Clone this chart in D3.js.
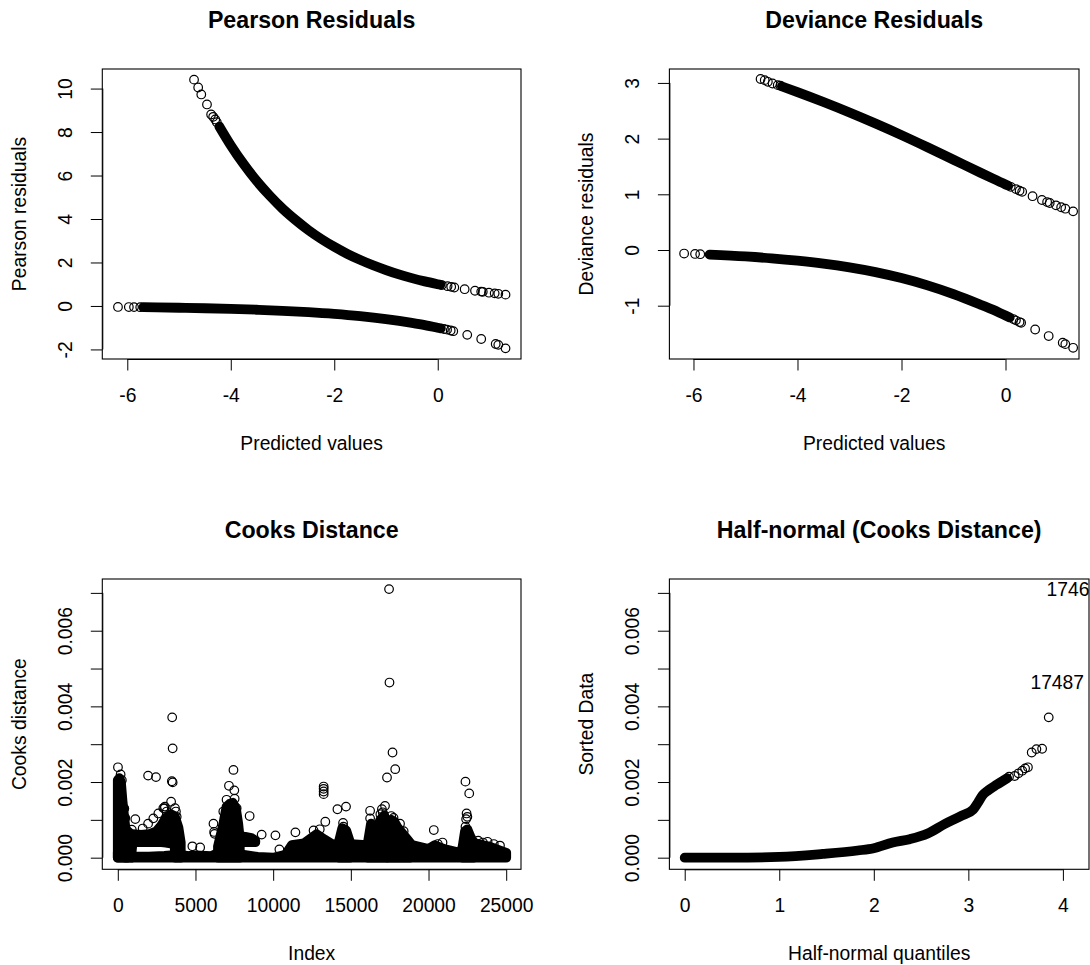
<!DOCTYPE html>
<html><head><meta charset="utf-8">
<script src="https://cdn.jsdelivr.net/npm/d3@7"></script>
<style>
body{margin:0;background:#fff}
svg{display:block;background:#fff}
</style>
</head><body>
<svg id="c" width="1090" height="965"></svg>
<script>
// ---------------- DATA ----------------
// Pearson residuals vs predicted values: dense bands (centre line of the point cloud) and separate points
const pearsonUpperBand = [[-4.22,8.25],[-4.0,7.39],[-3.75,6.52],[-3.5,5.75],[-3.25,5.08],[-3.0,4.48],[-2.75,3.96],[-2.5,3.49],[-2.25,3.08],[-2.0,2.72],[-1.75,2.40],[-1.5,2.12],[-1.25,1.87],[-1.0,1.65],[-0.75,1.45],[-0.5,1.28],[-0.25,1.13],[0.0,1.0],[0.05,0.975]];
const pearsonLowerBand = [[-5.69,-0.058],[-5.0,-0.082],[-4.5,-0.105],[-4.0,-0.135],[-3.5,-0.174],[-3.0,-0.223],[-2.5,-0.287],[-2.0,-0.368],[-1.5,-0.472],[-1.0,-0.607],[-0.5,-0.779],[-0.25,-0.88],[0.0,-1.0],[0.06,-1.03]];
const pearsonPoints = [[-4.71,10.41],[-4.63,10.05],[-4.57,9.73],[-4.46,9.27],[-4.38,8.81],[-4.34,8.70],[-4.30,8.58],[-4.27,8.45],
  [0.08,0.96],[0.19,0.91],[0.26,0.88],[0.32,0.85],[0.52,0.77],[0.72,0.70],[0.84,0.66],[0.87,0.65],[0.99,0.61],[1.10,0.58],[1.17,0.56],[1.31,0.52],
  [-6.18,-0.046],[-5.97,-0.051],[-5.87,-0.053],[-5.75,-0.056],[0.12,-1.06],[0.18,-1.09],[0.25,-1.13],[0.30,-1.16],[0.57,-1.33],[0.84,-1.52],[1.12,-1.75],[1.17,-1.79],[1.31,-1.95]];

// Deviance residuals vs predicted values
const devianceUpperBand = [[-4.30,2.937],[-4.0,2.835],[-3.5,2.657],[-3.0,2.469],[-2.5,2.271],[-2.0,2.063],[-1.5,1.845],[-1.0,1.621],[-0.5,1.396],[-0.25,1.285],[0.0,1.177],[0.05,1.156]];
const devianceLowerBand = [[-5.69,-0.082],[-5.0,-0.116],[-4.5,-0.149],[-4.0,-0.191],[-3.5,-0.244],[-3.0,-0.312],[-2.5,-0.397],[-2.0,-0.504],[-1.5,-0.635],[-1.0,-0.792],[-0.5,-0.974],[-0.25,-1.07],[0.0,-1.177],[0.08,-1.21]];
const deviancePoints = [[-4.71,3.07],[-4.63,3.05],[-4.57,3.02],[-4.48,2.99],[-4.38,2.96],[-4.33,2.95],
  [0.10,1.135],[0.20,1.094],[0.27,1.065],[0.32,1.045],[0.52,0.966],[0.70,0.898],[0.80,0.861],[0.85,0.844],[0.97,0.802],[1.07,0.768],[1.15,0.742],[1.30,0.694],
  [-6.18,-0.064],[-5.97,-0.071],[-5.87,-0.075],[0.15,-1.24],[0.20,-1.263],[0.27,-1.294],[0.30,-1.307],[0.57,-1.427],[0.83,-1.545],[1.10,-1.665],[1.15,-1.69],[1.30,-1.756]];

// Cook's distance (values in thousandths) by observation index
const cookBaseTop = [[0,0.15],[600,0.08],[1000,0.03],[2000,0.03],[3000,0.05],[4000,0.08],[4500,0.04],[5000,0.06],[6000,0.04],[6500,0.13],[8000,0.08],[9000,0.02],[10000,0.0],[10800,0.08],[11200,0.33],[12000,0.38],[12800,0.62],[13300,0.48],[13900,0.33],[14300,0.40],[15000,0.36],[16000,0.33],[16400,0.45],[17000,0.33],[17500,0.38],[18000,0.48],[18500,0.38],[19000,0.33],[20000,0.23],[20400,0.33],[21000,0.23],[22000,0.13],[22500,0.45],[23000,0.38],[24000,0.28],[25000,0.13]];
const cookClouds = [
  [[0,0,2.05],[100,0,2.1],[200,0,2.0],[300,0,1.5],[400,0,1.1],[500,0,0.75],[600,0,0.4]],
  [[500,0,0.75],[850,0,0.62],[950,0.41,0.62],[1500,0.42,0.60],[2000,0.41,0.62],[2500,0.41,0.70],[2800,0.41,0.85],[3100,0.40,1.05],[3400,0.38,1.15],[3650,0.38,1.10],[3700,0,1.05],[3900,0,0.8],[4050,0,0.4]],
  [[6450,0,0.3],[6800,0,0.9],[7000,0,1.35],[7200,0,1.42],[7400,0,1.45],[7600,0,1.3],[7750,0,0.9],[7850,0,0.5]],
  [[7800,0.41,0.57],[8200,0.41,0.55],[8600,0.41,0.52],[8850,0.41,0.45]],
  [[14250,0,0.45],[14450,0,0.78],[14700,0,0.72],[14950,0,0.4]],
  [[16100,0,0.40],[16300,0,0.90],[16600,0,0.70],[16900,0,1.0],[17150,0,1.12],[17300,0,0.6]],
  [[17400,0,0.6],[17600,0,1.0],[17800,0,0.95],[18000,0,0.8],[18300,0,0.65],[18800,0,0.40]],
  [[22200,0,0.3],[22350,0,0.7],[22500,0,0.75],[22700,0,0.55],[22900,0,0.4]]
];
const cookPoints = [[17460,7.10],[17487,4.63],[3500,3.71],[3530,2.89],[17683,2.78],[17857,2.34],[17328,2.12],[7445,2.32],[10,2.39],[1950,2.17],[2458,2.13],[3480,2.02],[3530,1.99],[22378,2.01],[22620,1.70],
  [13250,1.88],[13250,1.82],[13250,1.75],[13250,1.68],[7155,1.90],[7500,1.78],[7520,1.56],[7000,1.53],[3430,1.48],[14137,1.28],[14690,1.35],[16240,1.24],[16240,1.04],[17200,1.37],[17000,1.28],
  [1126,1.02],[8486,1.10],[3000,1.30],[3150,1.22],[22450,1.17],[22500,1.08],[22380,0.82],[13357,0.95],[14500,0.92],[14520,0.82],[18166,0.90],[6158,0.90],[6200,0.68],[6230,0.63],
  [9260,0.61],[10146,0.59],[11432,0.67],[20340,0.73],[14100,0.26],[17700,0.33],[16520,0.23],[1950,0.90],[1600,0.77],[900,0.74],[10400,0.22],[4800,0.30],[5300,0.27],[20600,0.36],[20900,0.40],[23200,0.45],[23500,0.40],
  [2287,1.04],[2609,1.17],[2930,1.31],[3030,1.35],[3680,1.31],[3740,1.22],[3790,1.08],[6790,1.22],[7650,1.31],[180,2.2],[260,2.05],[420,1.3],[480,1.05],
  [16900,1.15],[17050,1.2],[17600,1.1],[17750,1.05],[18400,0.7],[12600,0.72],[13000,0.75],[22420,1.02],[23800,0.42],[24200,0.36],[24600,0.32]];

// Half-normal plot of Cook's distance (thousandths) vs half-normal quantiles
const halfBand = [[0,0],[0.5,0],[1.0,0.02],[1.46,0.10],[1.83,0.19],[2.0,0.25],[2.2,0.40],[2.38,0.49],[2.57,0.64],[2.75,0.89],[2.93,1.11],[3.05,1.27],[3.10,1.45],[3.15,1.65],[3.21,1.78],[3.30,1.93],[3.41,2.10]];
const halfPoints = [[3.43,2.14],[3.49,2.16],[3.53,2.23],[3.57,2.30],[3.60,2.36],[3.63,2.39],[3.67,2.78],[3.72,2.87],[3.78,2.88],[3.85,3.71]];
const halfLabels = [[3.94,4.63,"17487"],[4.054,7.10,"1746"]];

// tick values
const predXTicks = [-6,-4,-2,0];
const pearsonYTicks = [-2,0,2,4,6,8,10];
const devianceYTicks = [-1,0,1,2,3];
const cookXTicks = [0,5000,10000,15000,20000,25000];
const cookYTicks = [0,1,2,3,4,5,6,7];
const cookYLabelled = [0,2,4,6];
const halfXTicks = [0,1,2,3,4];

// ---------------- LAYOUT ----------------
const FONT = '"Liberation Sans", Arial, Helvetica, sans-serif';
const FS = 19.3, FS_TITLE = 23.2;
const R = 4.3, SW = 1.2;
const svg = d3.select("#c");
const milli = d => (d/1000).toFixed(3);

const panels = [
  {id:1, title:"Pearson Residuals", xlab:"Predicted values", ylab:"Pearson residuals",
   box:[102.3,521,69,359], xdom:[-6.483,1.609], ydom:[-2.44,10.90],
   xticks:predXTicks, yticks:pearsonYTicks, yfmt:d=>String(d), xfmt:d=>String(d),
   bands:[pearsonUpperBand,pearsonLowerBand], points:pearsonPoints},
  {id:2, title:"Deviance Residuals", xlab:"Predicted values", ylab:"Deviance residuals",
   box:[669.4,1079,69,359], xdom:[-6.463,1.413], ydom:[-1.957,3.250],
   xticks:predXTicks, yticks:devianceYTicks, yfmt:d=>String(d), xfmt:d=>String(d),
   bands:[devianceUpperBand,devianceLowerBand], points:deviancePoints},
  {id:3, title:"Cooks Distance", xlab:"Index", ylab:"Cooks distance",
   box:[102.3,521,579,869.3], xdom:[-998,25953], ydom:[-0.307,7.367],
   xticks:cookXTicks, yticks:cookYTicks, yfmt:d=>cookYLabelled.includes(d)?milli(d):"", xfmt:d=>String(d),
   base:cookBaseTop, clouds:cookClouds, points:cookPoints},
  {id:4, title:"Half-normal (Cooks Distance)", xlab:"Half-normal quantiles", ylab:"Sorted Data",
   box:[669.4,1089,579,869.3], xdom:[-0.162,4.276], ydom:[-0.307,7.367],
   xticks:halfXTicks, yticks:cookYTicks, yfmt:d=>cookYLabelled.includes(d)?milli(d):"", xfmt:d=>String(d),
   bands:[halfBand], points:halfPoints, labels:halfLabels}
];

function styleText(sel, size, weight){
  sel.style("font-family",FONT).style("font-size",size+"px").style("font-weight",weight||"normal").attr("fill","#000");
}

function drawPanel(p){
  const [x0,x1,y0,y1] = p.box;
  const x = d3.scaleLinear().domain(p.xdom).range([x0,x1]);
  const y = d3.scaleLinear().domain(p.ydom).range([y1,y0]);
  const g = svg.append("g");
  const cid = "clip"+p.id;
  svg.append("defs").append("clipPath").attr("id",cid).append("rect")
    .attr("x",x0).attr("y",y0).attr("width",x1-x0).attr("height",y1-y0);
  const plot = g.append("g").attr("clip-path",`url(#${cid})`);
  const outer = 2*R + SW;

  if (p.base){
    plot.append("path").datum(p.base)
      .attr("d", d3.area().x(d=>x(d[0])).y0(()=>y(0)).y1(d=>y(d[1])))
      .attr("fill","#000").attr("stroke","#000").attr("stroke-width",outer).attr("stroke-linejoin","round");
  }
  (p.clouds||[]).forEach(c=>{
    plot.append("path").datum(c)
      .attr("d", d3.area().x(d=>x(d[0])).y0(d=>y(d[1])).y1(d=>y(d[2])))
      .attr("fill","#000").attr("stroke","#000").attr("stroke-width",outer).attr("stroke-linejoin","round");
  });
  (p.bands||[]).forEach(b=>{
    plot.append("path").datum(b)
      .attr("d", d3.line().x(d=>x(d[0])).y(d=>y(d[1])).curve(d3.curveMonotoneX))
      .attr("fill","none").attr("stroke","#000").attr("stroke-width",outer)
      .attr("stroke-linecap","round").attr("stroke-linejoin","round");
  });
  plot.selectAll("circle").data(p.points).join("circle")
    .attr("cx",d=>x(d[0])).attr("cy",d=>y(d[1])).attr("r",R)
    .attr("fill","none").attr("stroke","#000").attr("stroke-width",SW);
  if (p.labels){
    const lt = plot.selectAll("text.lab").data(p.labels).join("text")
      .attr("x",d=>x(d[0])).attr("y",d=>y(d[1])).attr("dy","0.36em")
      .attr("text-anchor","middle").text(d=>d[2]);
    styleText(lt, FS);
  }

  // box
  g.append("rect").attr("x",x0).attr("y",y0).attr("width",x1-x0).attr("height",y1-y0)
    .attr("fill","none").attr("stroke","#000").attr("stroke-width",1.1);

  // x axis
  const gx = g.append("g").attr("transform",`translate(0,${y1})`)
    .call(d3.axisBottom(x).tickValues(p.xticks).tickSize(11.5).tickSizeOuter(0).tickFormat(p.xfmt));
  gx.select(".domain").attr("stroke","#000")
    .attr("d",`M${x(p.xticks[0])},0.5H${x(p.xticks[p.xticks.length-1])}`);
  gx.selectAll(".tick line").attr("stroke","#000");
  styleText(gx.selectAll(".tick text").attr("y",43).attr("dy",null), FS);

  // y axis (labels parallel to the axis, as in R)
  const gy = g.append("g").attr("transform",`translate(${x0},0)`)
    .call(d3.axisLeft(y).tickValues(p.yticks).tickSize(11.5).tickSizeOuter(0).tickFormat(p.yfmt));
  gy.select(".domain").attr("stroke","#000")
    .attr("d",`M0.5,${y(p.yticks[0])}V${y(p.yticks[p.yticks.length-1])}`);
  gy.selectAll(".tick line").attr("stroke","#000");
  styleText(gy.selectAll(".tick text").attr("transform","rotate(-90)").attr("x",0).attr("y",-30)
    .attr("dy",null).attr("text-anchor","middle"), FS);

  // titles
  styleText(g.append("text").attr("x",(x0+x1)/2).attr("y",y0-41).attr("text-anchor","middle").text(p.title), FS_TITLE, "bold");
  styleText(g.append("text").attr("x",(x0+x1)/2).attr("y",y1+90.5).attr("text-anchor","middle").text(p.xlab), FS);
  styleText(g.append("text").attr("transform",`translate(${x0-76},${(y0+y1)/2}) rotate(-90)`)
    .attr("text-anchor","middle").text(p.ylab), FS);
}

panels.forEach(drawPanel);
</script>
</body></html>
